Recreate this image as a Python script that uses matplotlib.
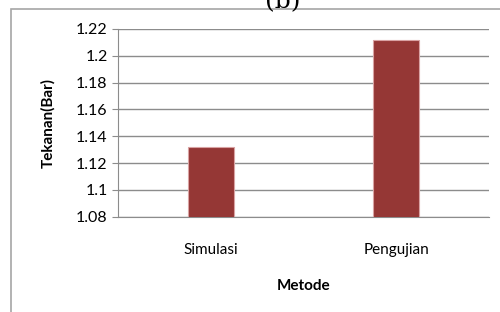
import matplotlib.pyplot as plt
from matplotlib.patches import Rectangle

kategori = ['Simulasi', 'Pengujian']
tekanan = [1.132, 1.212]
yticks = [1.08, 1.1, 1.12, 1.14, 1.16, 1.18, 1.2, 1.22]
ylabels = ['1.08', '1.1', '1.12', '1.14', '1.16', '1.18', '1.2', '1.22']

W, H = 500, 312
fig = plt.figure(figsize=(5, 3.12), dpi=100)
plt.rcParams['font.family'] = ['Lato', 'DejaVu Sans']

# bingkai chart
fig.patches.append(Rectangle((11 / W, -0.1), 1.2, 1 - 9 / H + 0.1,
                             transform=fig.transFigure, fill=False,
                             edgecolor='#a6a6a6', linewidth=1.2))
fig.text(283 / W, 1 - 13 / H, '(b)', family='DejaVu Serif', fontsize=18,
         ha='center', va='bottom')

ax = fig.add_axes([118 / W, 1 - 216.7 / H, (489 - 118) / W, (216.7 - 29) / H])
x = range(len(kategori))
ax.bar(x, tekanan, width=0.25, color='#953735', edgecolor='#d9a3a3',
       linewidth=0.8, zorder=3)
ax.set_xlim(-0.5, 1.5)
ax.set_ylim(1.08, 1.22)
ax.set_yticks(yticks)
ax.set_yticklabels(ylabels, fontsize=11.5)
ax.set_xticks(list(x))
ax.set_xticklabels(kategori, fontsize=11)
ax.yaxis.grid(True, color='#8c8c8c', linewidth=1)
ax.set_axisbelow(True)
ax.tick_params(axis='y', length=4.5, color='#8c8c8c', pad=3)
ax.tick_params(axis='x', length=0, pad=19)
for s in ['top', 'right']:
    ax.spines[s].set_visible(False)
for s in ['left', 'bottom']:
    ax.spines[s].set_color('#8c8c8c')
ax.set_ylabel('Tekanan(Bar)', fontsize=11, fontweight='bold', labelpad=15)
ax.set_xlabel('Metode', fontsize=11, fontweight='bold', labelpad=16)

fig.savefig('out.png', dpi=100)
